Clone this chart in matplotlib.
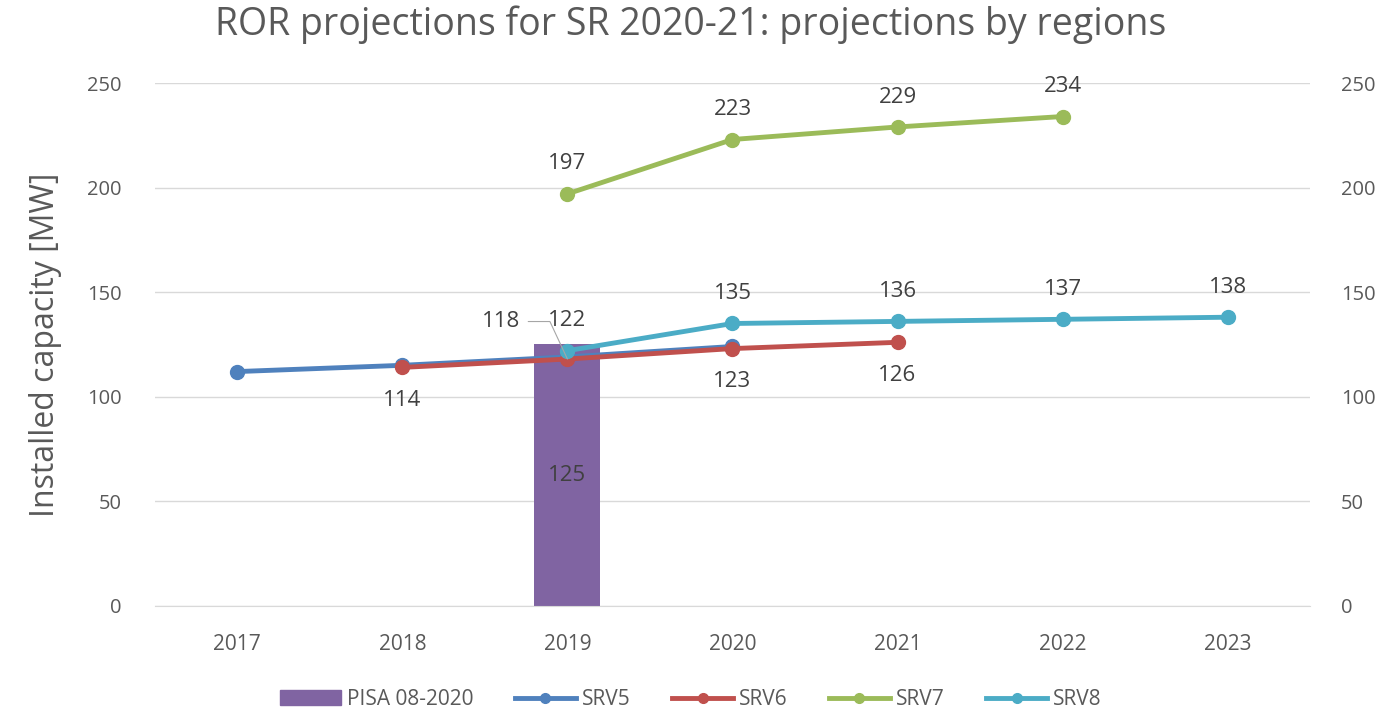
import numpy as np
import matplotlib.pyplot as plt
from matplotlib.lines import Line2D
from matplotlib.patches import Patch

plt.rcParams['font.family'] = ['Open Sans', 'DejaVu Sans']

years = ['2017', '2018', '2019', '2020', '2021', '2022', '2023']
pisa = [None, None, 125, None, None, None, None]
srv5 = [112, 115, 119, 124, None, None, None]
srv6 = [None, 114, 118, 123, 126, None, None]
srv7 = [None, None, 197, 223, 229, 234, None]
srv8 = [None, None, 122, 135, 136, 137, 138]

def arr(v):
    return np.array([np.nan if a is None else a for a in v], dtype=float)

x = np.arange(len(years))
txt = '#595959'
lab = '#404040'
bar_col = '#8064A2'

fig = plt.figure(figsize=(13.82, 7.16), dpi=100)
ax = fig.add_axes([0.112, 0.154, 0.836, 0.73])

ax.bar(x, np.nan_to_num(arr(pisa)), width=0.4, color=bar_col, zorder=2)

series = [('SRV5', srv5, '#4F81BD'), ('SRV6', srv6, '#C0504D'),
          ('SRV7', srv7, '#9BBB59'), ('SRV8', srv8, '#4BACC6')]
for name, vals, col in series:
    ax.plot(x, arr(vals), color=col, lw=3.5, marker='o', ms=10, zorder=3)

fs = 16
# data labels
for vals in (srv7, srv8):
    for i, v in enumerate(vals):
        if v is not None:
            ax.annotate(str(v), (i, v), xytext=(0, 14), textcoords='offset points',
                        ha='center', va='bottom', fontsize=fs, color=lab)
for i, v in enumerate(srv6):
    if v is None:
        continue
    if i == 2:
        ax.annotate(str(v), (i, v), xytext=(-48, 27), textcoords='offset points',
                    ha='center', va='center', fontsize=fs, color=lab,
                    arrowprops=dict(arrowstyle='-', color='#a6a6a6', lw=0.8,
                                    shrinkA=4, shrinkB=0, relpos=(1.0, 0.5),
                                    connectionstyle='angle,angleA=0,angleB=115,rad=0'))
    else:
        ax.annotate(str(v), (i, v), xytext=(0, -16), textcoords='offset points',
                    ha='center', va='top', fontsize=fs, color=lab)
for i, v in enumerate(pisa):
    if v is not None:
        ax.text(i, v / 2, str(v), ha='center', va='center', fontsize=fs, color=lab, zorder=4)

ax.set_xlim(-0.5, len(years) - 0.5)
ax.set_ylim(0, 250)
ax.set_yticks(np.arange(0, 251, 50))
ax.set_xticks(x)
ax.set_xticklabels(years)
ax.grid(axis='y', color='#d9d9d9', lw=1)
ax.set_axisbelow(True)
for s in ['top', 'left', 'right']:
    ax.spines[s].set_visible(False)
ax.spines['bottom'].set_color('#d9d9d9')
ax.tick_params(length=0, labelsize=15, colors=txt, pad=20)
ax.tick_params(axis='y', labelsize=14.5, pad=24)
ax.set_ylabel('Installed capacity [MW]', fontsize=23, color=txt, labelpad=18)

ax2 = ax.twinx()
ax2.set_ylim(0, 250)
ax2.set_yticks(np.arange(0, 251, 50))
for s in ax2.spines.values():
    s.set_visible(False)
ax2.tick_params(length=0, labelsize=14.5, colors=txt, pad=22)

fig.suptitle('ROR projections for SR 2020-21: projections by regions',
             fontsize=27, color=txt, y=0.992)

handles = [Patch(color=bar_col)] + [
    Line2D([0], [0], color=c, lw=3.5, marker='o', ms=7) for _, _, c in series]
labels = ['PISA 08-2020'] + [n for n, _, _ in series]
fig.legend(handles, labels, loc='center', bbox_to_anchor=(0.5, 0.023), ncol=5,
           frameon=False, fontsize=15, labelcolor=txt, handlelength=2.9,
           handletextpad=0.3, columnspacing=2.0)

fig.savefig('out.png', dpi=100)
